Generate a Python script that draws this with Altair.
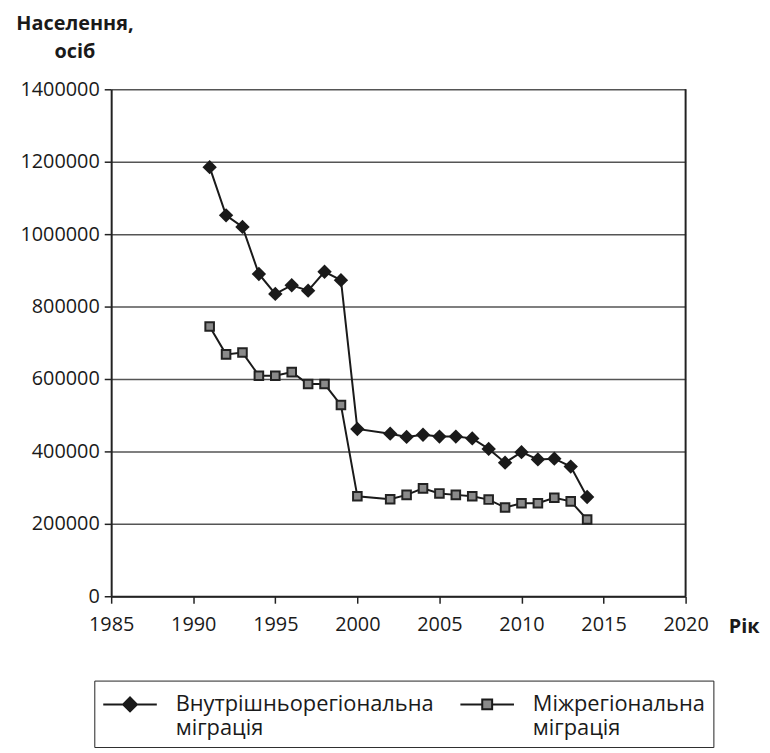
import altair as alt
import pandas as pd

years = [1991, 1992, 1993, 1994, 1995, 1996, 1997, 1998, 1999, 2000,
         2002, 2003, 2004, 2005, 2006, 2007, 2008, 2009, 2010, 2011, 2012, 2013, 2014]
intra = [1185000, 1052000, 1020000, 890000, 835000, 859000, 844000, 896000, 873000, 462000,
         449000, 440000, 446000, 441000, 441000, 436000, 407000, 369000, 398000, 378000, 380000, 358000, 274000]
inter = [745000, 668000, 673000, 609000, 609000, 619000, 586000, 586000, 528000, 276000,
         268000, 280000, 298000, 284000, 280000, 276000, 267000, 245000, 257000, 257000, 272000, 262000, 212000]
series_names = ["Внутрішньорегіональна|міграція", "Міжрегіональна|міграція"]
x_ticks = [1985, 1990, 1995, 2000, 2005, 2010, 2015, 2020]
y_ticks = [0, 200000, 400000, 600000, 800000, 1000000, 1200000, 1400000]

df = pd.DataFrame({
    "year": years + years,
    "value": intra + inter,
    "series": [series_names[0]] * len(years) + [series_names[1]] * len(years),
})

FONT = "Open Sans"
DARK = "#1a1a1a"
GREY = "#8a8a8a"

x_enc = alt.X("year:Q",
              scale=alt.Scale(domain=[1985, 2020], nice=False, zero=False),
              axis=alt.Axis(values=x_ticks, format="d", title="Рік",
                            grid=False, domainColor="#222", domainWidth=2,
                            tickColor="#222", tickWidth=1.5, tickSize=7,
                            labelFlush=False, labelOverlap=False,
                            labelFont=FONT, labelFontSize=20, labelColor=DARK,
                            labelPadding=12,
                            titleFont=FONT, titleFontSize=20, titleFontWeight="bold",
                            titleColor=DARK, titleAlign="left", titleBaseline="middle",
                            titleX=622, titleY=31, titleAnchor="start"))
y_enc = alt.Y("value:Q",
              scale=alt.Scale(domain=[0, 1400000], nice=False),
              axis=alt.Axis(values=y_ticks, format="d", title=["Населення,", "осіб"],
                            grid=True, gridColor="#555", gridWidth=1.5,
                            domainColor="#222", domainWidth=2,
                            tickColor="#222", tickWidth=1.5, tickSize=7,
                            labelFont=FONT, labelFontSize=20, labelColor=DARK,
                            labelPadding=5, labelOverlap=False,
                            titleFont=FONT, titleFontSize=20, titleFontWeight="bold",
                            titleColor=DARK, titleAngle=0, titleAlign="center",
                            titleBaseline="top", titleX=-37, titleY=-76,
                            titleLineHeight=28))

lines = alt.Chart(df).mark_line(color=DARK, strokeWidth=2).encode(
    x=x_enc, y=y_enc, detail="series:N")

diamonds = alt.Chart(df).transform_filter(
    alt.datum.series == series_names[0]
).mark_point(shape="diamond", filled=True, size=210, color=DARK, opacity=1).encode(
    x="year:Q", y="value:Q")

squares = alt.Chart(df).transform_filter(
    alt.datum.series == series_names[1]
).mark_point(shape="square", filled=True, size=75, fill=GREY, stroke="#222",
             strokeWidth=2, opacity=1).encode(x="year:Q", y="value:Q")

# legend symbols: short line with a marker in its middle (path units = 15 px)
sym_diamond = "M-1,0H0.333M1.267,0H2.6M0.8,-0.467L1.267,0L0.8,0.467L0.333,0Z"
sym_square = "M-1,0H0.467M1.133,0H2.6M0.467,-0.333H1.133V0.333H0.467Z"

leg = alt.Legend(title=None, orient="none", legendX=-17, legendY=596,
                 direction="horizontal", columns=2, strokeColor="#222",
                 padding=8, symbolSize=900, symbolStrokeWidth=2,
                 symbolStrokeColor=DARK, symbolOpacity=1,
                 labelExpr="split(datum.label, '|')",
                 labelFont=FONT, labelFontSize=22, labelColor=DARK,
                 labelLimit=400, labelOffset=42, columnPadding=22,
                 labelBaseline="middle")

legend_layer = alt.Chart(df).mark_point(filled=False, strokeWidth=2, opacity=0).encode(
    x="year:Q", y="value:Q",
    shape=alt.Shape("series:N", scale=alt.Scale(domain=series_names, range=[sym_diamond, sym_square]), legend=leg),
    fill=alt.Fill("series:N", scale=alt.Scale(domain=series_names, range=[DARK, GREY]), legend=leg),
    stroke=alt.Stroke("series:N", scale=alt.Scale(domain=series_names, range=[DARK, DARK]), legend=leg),
)

border = alt.Chart(pd.DataFrame({"year": [2020]})).mark_rule(color="#222", strokeWidth=2).encode(
    x="year:Q")

chart = alt.layer(lines, diamonds, squares, legend_layer, border).properties(
    width=579, height=511,
    autosize=alt.AutoSizeParams(type="none"),
    padding={"left": 104, "top": 79, "right": 77, "bottom": 150},
).configure_view(stroke=None)

chart.save("out.html", embed_options={"renderer": "svg", "actions": False})
